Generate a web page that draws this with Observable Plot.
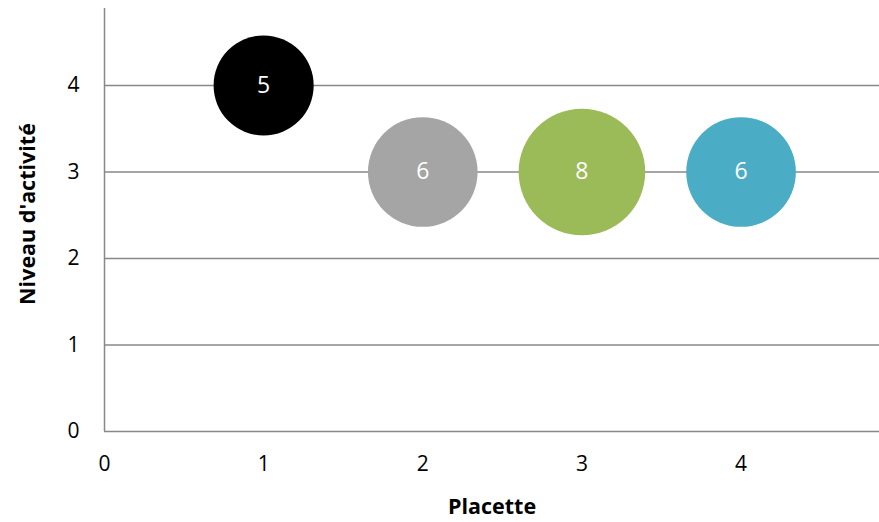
<!DOCTYPE html>
<html>
<head>
<meta charset="utf-8">
<script src="https://cdn.jsdelivr.net/npm/d3@7"></script>
<script src="https://cdn.jsdelivr.net/npm/@observablehq/plot@0.6"></script>
<style>
  html, body { margin: 0; padding: 0; background: #fff; }
  #chart svg { display: block; }
</style>
</head>
<body>
<div id="chart"></div>
<script>
const placette = [1, 2, 3, 4];
const niveau = [4, 3, 3, 3];
const taille = [5, 6, 8, 6];
const couleurs = ["#000000", "#a5a5a5", "#9bbb59", "#4bacc6"];
const xTicks = [0, 1, 2, 3, 4];
const yTicks = [0, 1, 2, 3, 4];
const gridTicks = [1, 2, 3, 4];

const data = placette.map((p, i) => ({x: p, y: niveau[i], size: taille[i], color: couleurs[i]}));
const font = "'Open Sans', sans-serif";

const chart = Plot.plot({
  width: 879,
  height: 522,
  marginLeft: 104,
  marginRight: 0,
  marginTop: 8,
  marginBottom: 91,
  style: {fontFamily: font, fontSize: "21px", color: "#000", background: "#fff"},
  x: {domain: [0, 4.87]},
  y: {domain: [0, 4.89]},
  r: {type: "sqrt", domain: [0, 8], range: [0, 63.3]},
  marks: [
    Plot.ruleY(gridTicks, {stroke: "#888888", strokeWidth: 1.5, strokeOpacity: 1}),
    Plot.ruleY([0], {stroke: "#888888", strokeWidth: 1.5}),
    Plot.ruleX([0], {stroke: "#888888", strokeWidth: 1.5}),
    Plot.axisX(xTicks, {tickSize: 0, tickPadding: 25, tickFormat: d => String(d),
      label: "Placette", labelAnchor: "center", labelOffset: 82, labelArrow: "none"}),
    Plot.axisY(yTicks, {tickSize: 0, tickPadding: 25, tickFormat: d => String(d),
      label: "Niveau d'activité", labelAnchor: "center", labelOffset: 85, labelArrow: "none"}),
    Plot.dot(data, {x: "x", y: "y", r: "size", fill: "color", stroke: "none"}),
    Plot.text(data, {x: "x", y: "y", text: d => String(d.size), fill: "#ffffff", fontFamily: font})
  ]
});

// enforce font sizes
chart.querySelectorAll("g[aria-label='x-axis tick label'] text, g[aria-label='y-axis tick label'] text").forEach(t => {
  t.style.fontSize = "21px";
});
chart.querySelectorAll("g[aria-label='x-axis label'] text, g[aria-label='y-axis label'] text").forEach(t => {
  t.style.fontSize = "21.5px";
  t.style.fontWeight = "bold";
});
const yl = chart.querySelector("g[aria-label='y-axis label']");
if (yl) {
  const tr = yl.getAttribute("transform") || "";
  yl.setAttribute("transform", "translate(0,-6) " + tr);
}
chart.querySelectorAll("g[aria-label='text'] text").forEach(t => {
  t.style.fontSize = "23px";
});
document.getElementById("chart").appendChild(chart);
</script>
</body>
</html>
